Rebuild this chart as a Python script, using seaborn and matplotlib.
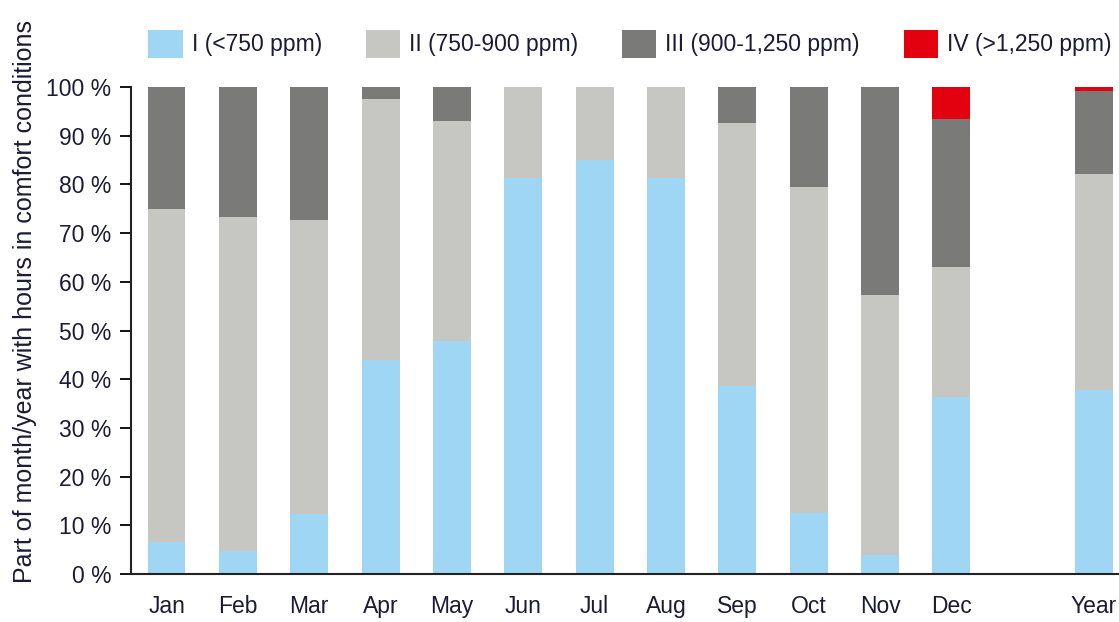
import pandas as pd
import matplotlib.pyplot as plt
import seaborn as sns
from matplotlib.patches import Patch

months = ['Jan', 'Feb', 'Mar', 'Apr', 'May', 'Jun', 'Jul', 'Aug', 'Sep', 'Oct', 'Nov', 'Dec', 'Year']
cls_I = [6.6, 4.7, 12.3, 44.0, 47.8, 81.3, 85.0, 81.3, 38.6, 12.5, 3.9, 36.3, 37.8]
cls_II = [68.4, 68.6, 60.4, 53.5, 45.2, 18.7, 15.0, 18.7, 54.0, 67.0, 53.4, 26.7, 44.3]
cls_III = [25.0, 26.7, 27.3, 2.5, 7.0, 0.0, 0.0, 0.0, 7.4, 20.5, 42.7, 30.4, 17.1]
cls_IV = [0.0, 0.0, 0.0, 0.0, 0.0, 0.0, 0.0, 0.0, 0.0, 0.0, 0.0, 6.6, 0.8]

labels = ['I (<750 ppm)', 'II (750-900 ppm)', 'III (900-1,250 ppm)', 'IV (>1,250 ppm)']
colors = ['#9fd6f4', '#c6c6c2', '#7a7a79', '#e3000f']
txt = '#1c1a34'

df = pd.DataFrame({'month': months, 'I': cls_I, 'II': cls_II, 'III': cls_III, 'IV': cls_IV})
# cumulative tops, drawn from the tallest layer down
df['c1'] = df['I']
df['c2'] = df['c1'] + df['II']
df['c3'] = df['c2'] + df['III']
df['c4'] = df['c3'] + df['IV']

order = months[:12] + [' ', 'Year']

plt.rcParams['font.family'] = ['Liberation Sans', 'DejaVu Sans']

fig = plt.figure(figsize=(11.19, 6.22), dpi=100)
ax = fig.add_axes([0.117, 0.077, 0.883, 0.783])

for col, c in zip(['c4', 'c3', 'c2', 'c1'], colors[::-1]):
    sns.barplot(data=df, x='month', y=col, order=order, color=c, width=0.53,
                saturation=1, linewidth=0, ax=ax)

ax.set_xlim(-0.5, 13.35)
ax.set_ylim(0, 100)
ax.set_yticks(range(0, 101, 10))
ax.set_yticklabels([f'{v} %' for v in range(0, 101, 10)], fontsize=16.5, color=txt)
ax.set_xticks(range(len(order)))
ax.set_xticklabels(order, fontsize=16.5, color=txt)
ax.tick_params(axis='x', length=0, pad=15)
ax.tick_params(axis='y', length=8, width=1.3, direction='out', pad=6)
ax.set_xlabel('')
ax.set_ylabel('Part of month/year with hours in comfort conditions', fontsize=18, color=txt)
ax.yaxis.set_label_coords(-0.095, 0.56)
for s in ['top', 'right']:
    ax.spines[s].set_visible(False)
for s in ['left', 'bottom']:
    ax.spines[s].set_linewidth(1.5)
    ax.spines[s].set_color('#222222')

handles = [Patch(facecolor=c, edgecolor='none') for c in colors]
fig.legend(handles, labels, loc='center', bbox_to_anchor=(0.563, 0.93), ncol=4,
           frameon=False, fontsize=16.5, handlelength=1.5, handleheight=1.5,
           handletextpad=0.4, columnspacing=1.9, labelcolor=txt)

fig.savefig('out.png', dpi=100)
